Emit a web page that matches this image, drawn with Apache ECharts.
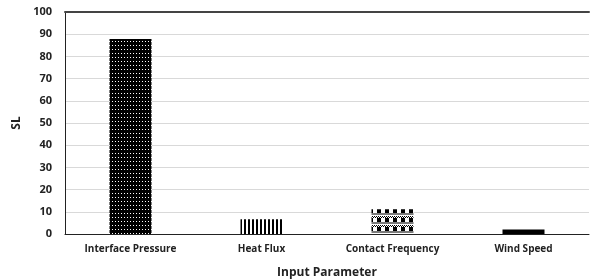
<!DOCTYPE html>
<html>
<head>
<meta charset="utf-8">
<script src="https://cdn.jsdelivr.net/npm/echarts@6/dist/echarts.min.js"></script>
<style>
  html, body { margin: 0; padding: 0; background: #fff; }
  #chart { width: 592px; height: 280px; }
</style>
</head>
<body>
<div id="chart"></div>
<script>
// data
const categories = ['Interface Pressure', 'Heat Flux', 'Contact Frequency', 'Wind Speed'];
const slValues = [87.8, 6.6, 11.2, 2.0];
const yTicks = [0, 10, 20, 30, 40, 50, 60, 70, 80, 90, 100];

const FONT = '"Open Sans", "Liberation Sans", sans-serif';

// small canvas tiles for the fill patterns
function tile(w, h, draw) {
  const c = document.createElement('canvas');
  c.width = w;
  c.height = h;
  const ctx = c.getContext('2d');
  draw(ctx);
  return { image: c, repeat: 'repeat' };
}

const dotted = tile(3, 4, function (ctx) {
  ctx.fillStyle = '#000';
  ctx.fillRect(0, 0, 3, 4);
  ctx.fillStyle = '#fff';
  ctx.fillRect(1, 1, 1, 1);
});

const stripes = tile(4, 4, function (ctx) {
  ctx.fillStyle = '#fff';
  ctx.fillRect(0, 0, 4, 4);
  ctx.fillStyle = '#000';
  ctx.fillRect(0, 0, 2, 4);
});

const checker = tile(8, 9, function (ctx) {
  ctx.fillStyle = '#fff';
  ctx.fillRect(0, 0, 8, 9);
  ctx.fillStyle = '#000';
  // fine checker row
  for (let x = 0; x < 8; x += 2) {
    ctx.fillRect(x, 0, 1, 1);
    ctx.fillRect(x + 1, 1, 1, 1);
  }
  ctx.fillRect(1, 2, 4, 4);
  ctx.fillStyle = '#7a7a7a';
  ctx.fillRect(0, 6, 8, 2);
});

const fills = [dotted, stripes, checker, '#000'];

const chart = echarts.init(document.getElementById('chart'));

const option = {
  animation: false,
  grid: { left: 65, right: 3, top: 12, bottom: 46, outerBoundsMode: 'none', containLabel: false },
  xAxis: [{
    type: 'category',
    data: categories,
    name: 'Input Parameter',
    nameLocation: 'middle',
    nameGap: 33,
    nameTextStyle: { fontFamily: FONT, fontWeight: 'bold', fontSize: 12, color: '#222' },
    axisLine: { lineStyle: { color: '#222', width: 1 } },
    axisTick: { show: false },
    axisLabel: { fontFamily: FONT, fontWeight: 'bold', fontSize: 10, color: '#222', margin: 10 }
  }, {
    type: 'category',
    position: 'top',
    data: categories,
    axisLine: { lineStyle: { color: '#444', width: 2 } },
    axisTick: { show: false },
    axisLabel: { show: false }
  }],
  yAxis: {
    type: 'value',
    min: yTicks[0],
    max: yTicks[yTicks.length - 1],
    interval: 10,
    name: 'SL',
    nameLocation: 'middle',
    nameGap: 37,
    nameTextStyle: { fontFamily: FONT, fontWeight: 'bold', fontSize: 12, color: '#222' },
    axisLine: { show: true, lineStyle: { color: '#222', width: 1 } },
    axisTick: { show: false },
    axisLabel: { fontFamily: FONT, fontWeight: 'bold', fontSize: 11, color: '#222', margin: 13 },
    splitLine: { lineStyle: { color: '#d9d9d9', width: 1 } }
  },
  series: [{
    type: 'bar',
    barWidth: 42,
    data: slValues.map(function (v, i) {
      return { value: v, itemStyle: { color: fills[i] } };
    })
  }]
};

chart.setOption(option);
</script>
</body>
</html>
